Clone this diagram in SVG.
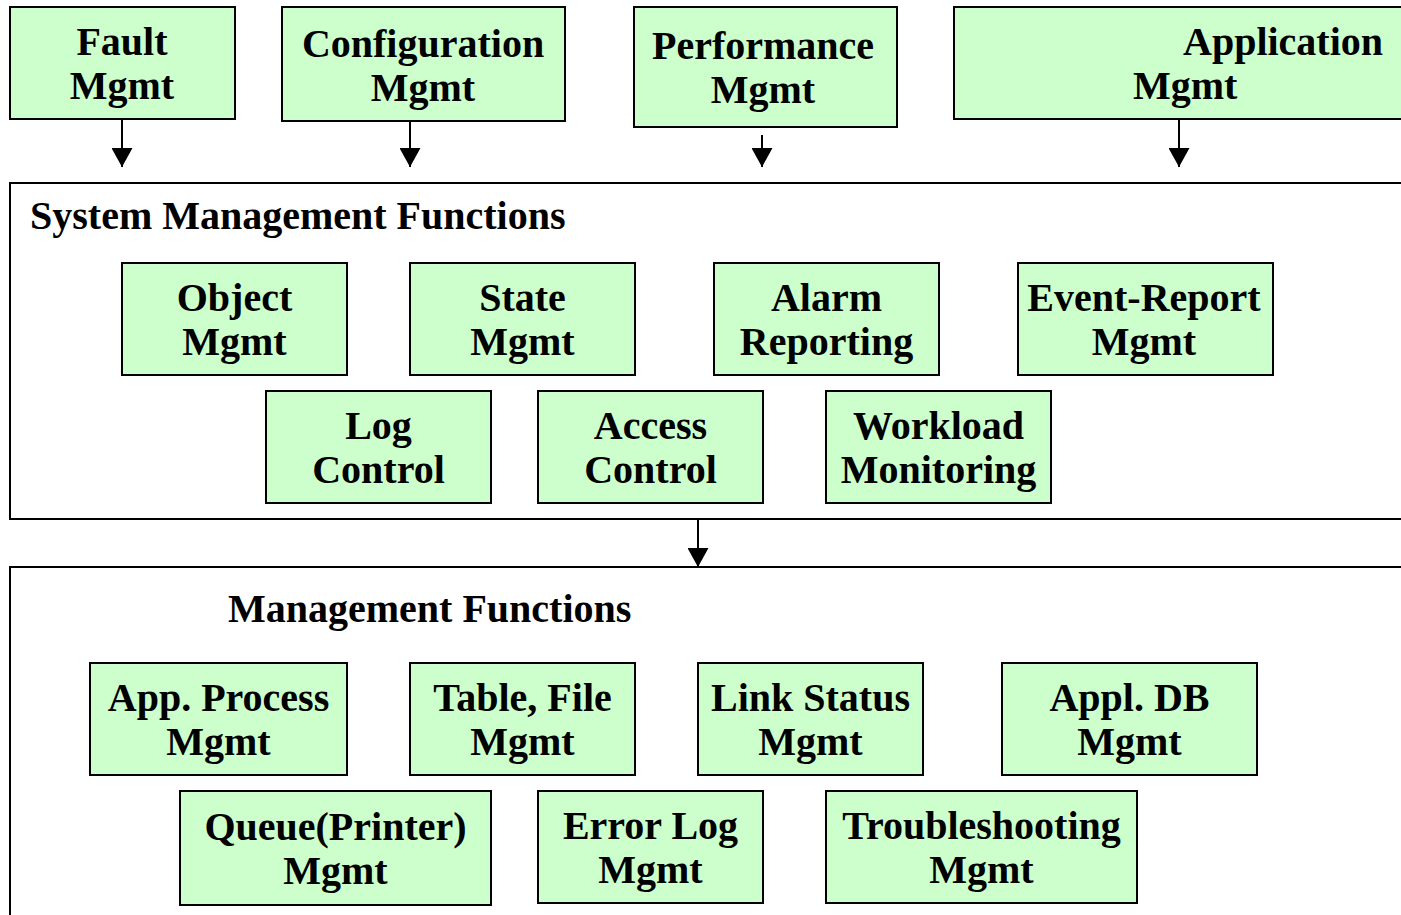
<svg xmlns="http://www.w3.org/2000/svg" width="1401" height="915" viewBox="0 0 1401 915">
<style>
.bg{fill:#ffffff}
.box{fill:#ccffcc;stroke:#000;stroke-width:2}
.frame{fill:#ffffff;stroke:#000;stroke-width:2}
text{font-family:"Liberation Serif","Times New Roman",serif;font-weight:bold;font-size:40px;fill:#000}
.c{text-anchor:middle}
.conn{stroke:#000;stroke-width:2;fill:none}
</style>
<defs>
<marker id="ah" viewBox="0 0 19 21" refX="19" refY="10.5" markerWidth="19" markerHeight="21" markerUnits="userSpaceOnUse" orient="auto">
<path d="M0,0 L19,10.5 L0,21 Z" fill="#000"/>
</marker>
</defs>
<rect class="bg" x="0" y="0" width="1401" height="915"/>

<g id="sys-frame">
<rect class="frame" x="10" y="183" width="1400" height="336"/>
<text x="30" y="229">System Management Functions</text>
</g>
<g id="mgmt-frame">
<rect class="frame" x="10" y="567" width="1400" height="360"/>
<text x="228" y="622">Management Functions</text>
</g>

<g id="fault"><rect class="box" x="10" y="7" width="225" height="112"/><text class="c" x="122" y="55">Fault</text><text class="c" x="122" y="99">Mgmt</text></g>
<g id="config"><rect class="box" x="282" y="7" width="283" height="114"/><text class="c" x="423" y="57">Configuration</text><text class="c" x="423" y="101">Mgmt</text></g>
<g id="perf"><rect class="box" x="634" y="7" width="263" height="120"/><text class="c" x="763" y="59">Performance</text><text class="c" x="763" y="103">Mgmt</text></g>
<g id="app"><rect class="box" x="954" y="7" width="460" height="112"/><text x="1183" y="55">Application</text><text x="1133" y="99">Mgmt</text></g>

<g id="object"><rect class="box" x="122" y="263" width="225" height="112"/><text class="c" x="234.5" y="311">Object</text><text class="c" x="234.5" y="355">Mgmt</text></g>
<g id="state"><rect class="box" x="410" y="263" width="225" height="112"/><text class="c" x="522.5" y="311">State</text><text class="c" x="522.5" y="355">Mgmt</text></g>
<g id="alarm"><rect class="box" x="714" y="263" width="225" height="112"/><text class="c" x="826.5" y="311">Alarm</text><text class="c" x="826.5" y="355">Reporting</text></g>
<g id="event"><rect class="box" x="1018" y="263" width="255" height="112"/><text class="c" x="1144" y="311">Event-Report</text><text class="c" x="1144" y="355">Mgmt</text></g>

<g id="log"><rect class="box" x="266" y="391" width="225" height="112"/><text class="c" x="378.5" y="439">Log</text><text class="c" x="378.5" y="483">Control</text></g>
<g id="access"><rect class="box" x="538" y="391" width="225" height="112"/><text class="c" x="650.5" y="439">Access</text><text class="c" x="650.5" y="483">Control</text></g>
<g id="workload"><rect class="box" x="826" y="391" width="225" height="112"/><text class="c" x="938.5" y="439">Workload</text><text class="c" x="938.5" y="483">Monitoring</text></g>

<g id="appproc"><rect class="box" x="90" y="663" width="257" height="112"/><text class="c" x="218.5" y="711">App. Process</text><text class="c" x="218.5" y="755">Mgmt</text></g>
<g id="tablefile"><rect class="box" x="410" y="663" width="225" height="112"/><text class="c" x="522.5" y="711">Table, File</text><text class="c" x="522.5" y="755">Mgmt</text></g>
<g id="linkstatus"><rect class="box" x="698" y="663" width="225" height="112"/><text class="c" x="810.5" y="711">Link Status</text><text class="c" x="810.5" y="755">Mgmt</text></g>
<g id="appldb"><rect class="box" x="1002" y="663" width="255" height="112"/><text class="c" x="1129.5" y="711">Appl. DB</text><text class="c" x="1129.5" y="755">Mgmt</text></g>

<g id="queue"><rect class="box" x="180" y="791" width="311" height="114"/><text class="c" x="335.5" y="840">Queue(Printer)</text><text class="c" x="335.5" y="884">Mgmt</text></g>
<g id="errorlog"><rect class="box" x="538" y="791" width="225" height="112"/><text class="c" x="650.5" y="839">Error Log</text><text class="c" x="650.5" y="883">Mgmt</text></g>
<g id="trouble"><rect class="box" x="826" y="791" width="311" height="112"/><text class="c" x="981.5" y="839">Troubleshooting</text><text class="c" x="981.5" y="883">Mgmt</text></g>

<g id="connectors">
<line class="conn" x1="122" y1="119" x2="122" y2="167" marker-end="url(#ah)"/>
<line class="conn" x1="410" y1="121" x2="410" y2="167" marker-end="url(#ah)"/>
<line class="conn" x1="762" y1="135" x2="762" y2="167" marker-end="url(#ah)"/>
<line class="conn" x1="1179" y1="119" x2="1179" y2="167" marker-end="url(#ah)"/>
<line class="conn" x1="698" y1="519" x2="698" y2="567" marker-end="url(#ah)"/>
</g>
</svg>
